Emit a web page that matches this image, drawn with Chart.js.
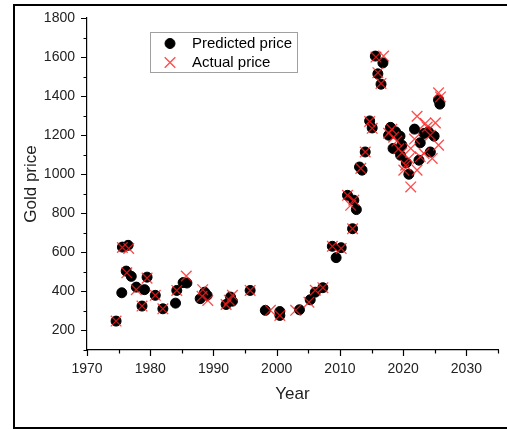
<!DOCTYPE html>
<html>
<head>
<meta charset="utf-8">
<script src="https://cdn.jsdelivr.net/npm/chart.js@4"></script>
<style>
  html, body { margin: 0; padding: 0; background: #fff; }
  #wrap { width: 507px; height: 430px; }
</style>
</head>
<body>
<div id="wrap"><canvas id="myChart" width="507" height="430"></canvas></div>
<script>
// predicted price (black dots)
const predYears = [1974.6, 1975.5, 1975.6, 1976.5, 1976.2, 1977.0, 1977.8, 1979.1, 1979.5, 1978.7,
  1980.8, 1982.0, 1984.0, 1984.2, 1985.2, 1985.8, 1987.9, 1988.6, 1989.0, 1992.0,
  1992.7, 1993.0, 1995.8, 1998.2, 2000.5, 2000.5, 2003.6, 2005.3, 2006.1, 2007.3,
  2009.4, 2008.8, 2010.2, 2012.0, 2011.2, 2012.2, 2012.6, 2013.1, 2013.5, 2014.0,
  2014.7, 2015.1, 2015.6, 2016.8, 2016.0, 2016.5, 2018.0, 2017.7, 2018.8, 2019.5,
  2018.4, 2019.3, 2019.8, 2019.6, 2020.5, 2020.9, 2021.8, 2022.7, 2023.3, 2024.0,
  2024.9, 2024.3, 2022.5, 2025.6, 2025.8];
const predPrice = [248, 393, 627, 636, 504, 477, 422, 409, 473, 325,
  380, 311, 340, 405, 445, 443, 363, 396, 380, 333,
  371, 350, 405, 303, 297, 277, 306, 357, 396, 419,
  573, 631, 624, 721, 892, 867, 819, 1037, 1021, 1114,
  1273, 1237, 1605, 1570, 1514, 1461, 1240, 1200, 1217, 1195,
  1132, 1123, 1149, 1097, 1058, 1000, 1231, 1161, 1209, 1217,
  1195, 1114, 1072, 1380, 1359];

// actual price (red crosses)
const actYears = [1974.6, 1975.6, 1976.6, 1976.3, 1977.8, 1979.5, 1978.7, 1980.8, 1982.0, 1984.2,
  1985.7, 1988.3, 1988.2, 1989.1, 1992.0, 1993.0, 1992.5, 1995.8, 1999.0, 2000.5,
  2003.0, 2005.1, 2006.1, 2007.3, 2008.8, 2010.2, 2012.0, 2011.2, 2011.7, 2012.2,
  2013.3, 2014.0, 2014.7, 2015.1, 2015.7, 2016.9, 2016.0, 2016.5, 2017.7, 2018.2,
  2018.5, 2019.0, 2019.3, 2019.8, 2020.4, 2020.1, 2021.2, 2021.2, 2022.2, 2022.2,
  2022.7, 2023.3, 2023.5, 2023.8, 2024.6, 2025.1, 2025.6, 2025.6, 2025.9, 2024.3,
  2020.9, 2021.8];
const actPrice = [248, 625, 620, 495, 409, 468, 325, 380, 311, 405,
  479, 409, 375, 354, 333, 380, 355, 405, 303, 277,
  303, 345, 406, 419, 631, 620, 721, 892, 841, 867,
  1030, 1114, 1270, 1235, 1600, 1605, 1520, 1465, 1210, 1230,
  1190, 1170, 1130, 1110, 1046, 1021, 935, 1132, 1021, 1297,
  1089, 1106, 1260, 1242, 1081, 1263, 1149, 1417, 1396, 1200,
  1080, 1180];

const seriesNames = ['Predicted price', 'Actual price'];
const fontFamily = "'Liberation Sans', Arial, sans-serif";

const toPoints = (xs, ys) => xs.map((x, i) => ({ x: x, y: ys[i] }));

// white page + outer frame
const framePlugin = {
  id: 'frame',
  beforeDraw(chart) {
    const ctx = chart.ctx;
    ctx.save();
    ctx.fillStyle = '#fff';
    ctx.fillRect(0, 0, chart.width, chart.height);
    ctx.restore();
  },
  afterDraw(chart) {
    const ctx = chart.ctx;
    ctx.save();
    ctx.strokeStyle = '#000';
    ctx.lineWidth = 2;
    ctx.strokeRect(14, 5, 500, 423);
    ctx.restore();
  }
};

// outward tick marks, short ones for minor steps
const tickPlugin = {
  id: 'axisTicks',
  afterDraw(chart) {
    const { ctx, chartArea: a, scales: { x, y } } = chart;
    ctx.save();
    ctx.strokeStyle = '#000';
    ctx.lineWidth = 1.2;
    ctx.beginPath();
    x.ticks.forEach(t => {
      const px = Math.round(x.getPixelForValue(t.value)) + 0.5;
      const len = t.value % 10 === 0 ? 6 : 3.5;
      ctx.moveTo(px, a.bottom);
      ctx.lineTo(px, a.bottom + len);
    });
    y.ticks.forEach(t => {
      const py = Math.round(y.getPixelForValue(t.value)) + 0.5;
      const len = t.value % 200 === 0 ? 6 : 3.5;
      ctx.moveTo(a.left, py);
      ctx.lineTo(a.left - len, py);
    });
    ctx.stroke();
    ctx.restore();
  }
};

// legend box inside the plot
const legendPlugin = {
  id: 'boxLegend',
  afterDraw(chart) {
    const ctx = chart.ctx;
    const bx = 150, by = 32, bw = 147, bh = 40;
    ctx.save();
    ctx.strokeStyle = '#a0a0a0';
    ctx.lineWidth = 1;
    ctx.strokeRect(bx + 0.5, by + 0.5, bw, bh);
    chart.data.datasets.forEach((ds, i) => {
      const cy = by + 11.5 + i * 19;
      ctx.fillStyle = ds.backgroundColor;
      ctx.strokeStyle = ds.borderColor;
      ctx.lineWidth = ds.borderWidth;
      Chart.helpers.drawPoint(ctx, {
        pointStyle: ds.pointStyle,
        radius: ds.pointRadius,
        borderWidth: ds.borderWidth
      }, 170, cy);
      ctx.fillStyle = '#000';
      ctx.font = '15px ' + fontFamily;
      ctx.textBaseline = 'middle';
      ctx.fillText(ds.label, 192, cy);
    });
    ctx.restore();
  }
};

const data = {
  datasets: [{
    label: seriesNames[0],
    data: toPoints(predYears, predPrice),
    pointStyle: 'circle',
    pointRadius: 5,
    backgroundColor: '#000',
    borderColor: '#000',
    borderWidth: 1,
    order: 2
  }, {
    label: seriesNames[1],
    data: toPoints(actYears, actPrice),
    pointStyle: 'crossRot',
    pointRadius: 7.5,
    backgroundColor: 'rgba(255,30,30,0.8)',
    borderColor: 'rgba(255,30,30,0.8)',
    borderWidth: 1.3,
    order: 1
  }]
};

const config = {
  type: 'scatter',
  data,
  options: {
    responsive: false,
    animation: false,
    events: [],
    layout: { padding: { top: 18, right: 9, bottom: 25, left: 14 } },
    plugins: { legend: { display: false }, tooltip: { enabled: false } },
    scales: {
      x: {
        type: 'linear',
        min: 1970,
        max: 2035,
        afterFit: s => { s.height = 55; },
        grid: { display: false, drawTicks: true, tickLength: 6 },
        border: { display: true, color: '#000', width: 1.2 },
        ticks: {
          stepSize: 5,
          autoSkip: false,
          maxRotation: 0,
          padding: 5,
          color: '#222',
          font: { family: fontFamily, size: 14 },
          callback: v => (v % 10 === 0 ? String(v) : '')
        },
        title: {
          display: true,
          text: 'Year',
          color: '#222',
          font: { family: fontFamily, size: 17 },
          padding: { top: 0, bottom: 0 }
        }
      },
      y: {
        type: 'linear',
        min: 100,
        max: 1800,
        afterFit: s => { s.width = 73; },
        grid: { display: false, drawTicks: true, tickLength: 6 },
        border: { display: true, color: '#000', width: 1.2 },
        ticks: {
          stepSize: 100,
          autoSkip: false,
          padding: 6,
          color: '#222',
          font: { family: fontFamily, size: 14 },
          callback: v => (v % 200 === 0 ? String(v) : '')
        },
        title: {
          display: true,
          text: 'Gold price',
          color: '#222',
          font: { family: fontFamily, size: 17 },
          padding: { top: 7, bottom: 0 }
        }
      }
    }
  },
  plugins: [framePlugin, tickPlugin, legendPlugin]
};

const myChart = new Chart(document.getElementById('myChart'), config);
</script>
</body>
</html>
